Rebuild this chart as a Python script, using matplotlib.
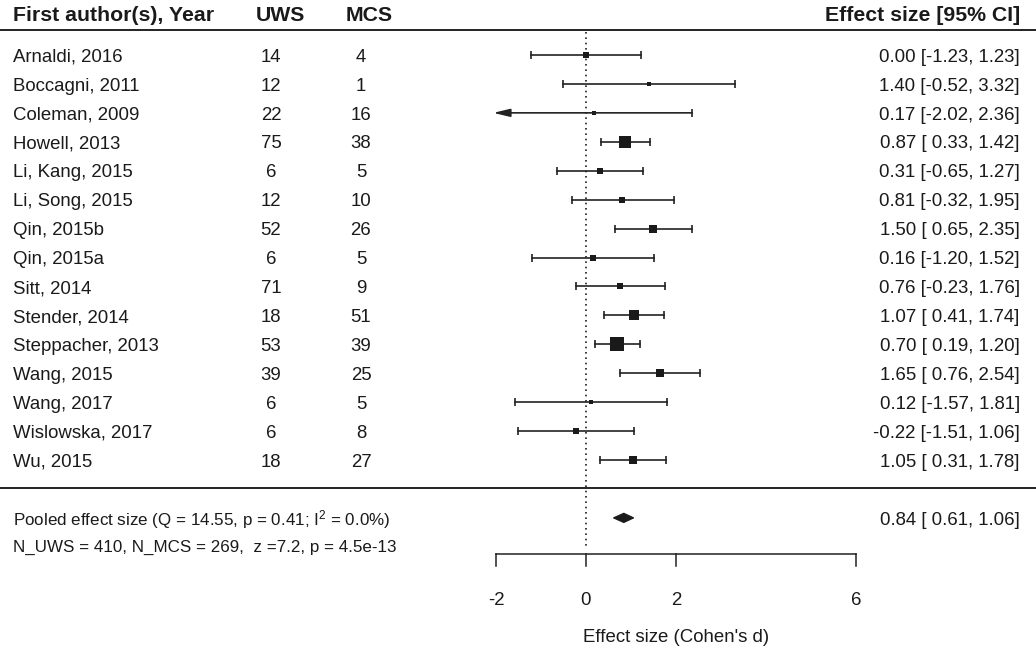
import numpy as np
import matplotlib
matplotlib.use("Agg")
import matplotlib.pyplot as plt

plt.rcParams['font.family'] = ['Liberation Sans', 'DejaVu Sans']
plt.rcParams['mathtext.fontset'] = 'custom'
plt.rcParams['mathtext.rm'] = 'Liberation Sans'
plt.rcParams['mathtext.it'] = 'Liberation Sans'

studies = ["Arnaldi, 2016", "Boccagni, 2011", "Coleman, 2009", "Howell, 2013",
           "Li, Kang, 2015", "Li, Song, 2015", "Qin, 2015b", "Qin, 2015a",
           "Sitt, 2014", "Stender, 2014", "Steppacher, 2013", "Wang, 2015",
           "Wang, 2017", "Wislowska, 2017", "Wu, 2015"]
n_uws = [14, 12, 22, 75, 6, 12, 52, 6, 71, 18, 53, 39, 6, 6, 18]
n_mcs = [4, 1, 16, 38, 5, 10, 26, 5, 9, 51, 39, 25, 5, 8, 27]
es = [0.00, 1.40, 0.17, 0.87, 0.31, 0.81, 1.50, 0.16, 0.76, 1.07, 0.70, 1.65, 0.12, -0.22, 1.05]
ci_lb = [-1.23, -0.52, -2.02, 0.33, -0.65, -0.32, 0.65, -1.20, -0.23, 0.41, 0.19, 0.76, -1.57, -1.51, 0.31]
ci_ub = [1.23, 3.32, 2.36, 1.42, 1.27, 1.95, 2.35, 1.52, 1.76, 1.74, 1.20, 2.54, 1.81, 1.06, 1.78]

pooled_es, pooled_lb, pooled_ub = 0.84, 0.61, 1.06
pooled_label = r"Pooled effect size (Q = 14.55, p = 0.41; I$^{2}$ = 0.0%)"
pooled_label2 = "N_UWS = 410, N_MCS = 269,  z =7.2, p = 4.5e-13"
xticks = [-2, 0, 2, 6]
col_headers = ["First author(s), Year", "UWS", "MCS", "Effect size [95% CI]"]
xlabel = "Effect size (Cohen's d)"

es = np.array(es); lb = np.array(ci_lb); ub = np.array(ci_ub)
k = len(studies)
rows = np.arange(k, 0, -1)

# weights -> marker size (metafor style: linear in weight from 0.5 to 1.5)
se = (ub - lb) / (2 * 1.96)
w = 1 / se**2
cex = (w - w.min()) / (w.max() - w.min()) + 0.5

TXT = '#1a1a1a'
LN = '#222222'
fig = plt.figure(figsize=(10.36, 6.47), dpi=100)
ax = fig.add_axes([0, 0, 1, 1])
ax.set_xlim(-13.022, 10.0)
ax.set_ylim(-5.463, 16.901)
ax.axis('off')

alim = (xticks[0], xticks[-1])
fs = 13.4
dy = 0.23   # baseline offset so that cap-height centre sits on the row

# column positions
x_name, x_uws, x_mcs, x_right = -12.73, -7.0, -5.0, 9.64

# header
hfs = 15.3
yh = 16.42 - 0.25
ax.text(x_name, yh, col_headers[0], fontsize=hfs, fontweight='bold', ha='left', va='baseline', color=TXT)
ax.text(-6.78, yh, col_headers[1], fontsize=hfs, fontweight='bold', ha='center', va='baseline', color=TXT)
ax.text(-4.82, yh, col_headers[2], fontsize=hfs, fontweight='bold', ha='center', va='baseline', color=TXT)
ax.text(x_right, yh, col_headers[3], fontsize=hfs, fontweight='bold', ha='right', va='baseline', color=TXT)

ax.axhline(15.864, color=LN, lw=1.4)
ax.axhline(0.03, color=LN, lw=1.4)

# reference line
ax.plot([0, 0], [15.8, -2.04], color=LN, lw=1.2, ls=(0, (1, 2.2)))

for i in range(k):
    y = rows[i]
    ax.text(x_name, y - dy, studies[i], fontsize=fs, ha='left', va='baseline', color=TXT)
    ax.text(x_uws, y - dy, str(n_uws[i]), fontsize=fs, ha='center', va='baseline', color=TXT)
    ax.text(x_mcs, y - dy, str(n_mcs[i]), fontsize=fs, ha='center', va='baseline', color=TXT)
    ax.text(x_right, y - dy, f"{es[i]:.2f} [{lb[i]:5.2f}, {ub[i]:.2f}]", fontsize=fs,
            ha='right', va='baseline', color=TXT)
    lo = max(lb[i], alim[0]); hi = min(ub[i], alim[1])
    if lb[i] < alim[0]:
        ax.annotate('', xy=(lo - 0.06, y), xytext=(hi, y),
                    arrowprops=dict(arrowstyle='-|>,head_length=1.0,head_width=0.24',
                                    color=LN, lw=1.2, shrinkA=0, shrinkB=0))
        ax.plot([hi], [y], marker='|', ms=6, mew=1.2, color=LN)
    else:
        ax.plot([lo, hi], [y, y], color=LN, lw=1.2)
        ax.plot([lo, hi], [y, y], ls='none', marker='|', ms=6, mew=1.2, color=LN)
    ax.plot([es[i]], [y], marker='s', ms=6.5 * cex[i], color=TXT, mec=TXT, mew=0)

# pooled diamond
yp = -1
h = 0.16
ax.fill([pooled_lb, pooled_es, pooled_ub, pooled_es], [yp, yp + h, yp, yp - h],
        facecolor=TXT, edgecolor=TXT, lw=0.8, joinstyle='miter')
pfs = 12.25
ax.text(x_name, -1.05 - 0.21, pooled_label, fontsize=pfs, ha='left', va='baseline', color=TXT)
ax.text(x_name, -1.97 - 0.21, pooled_label2, fontsize=pfs, ha='left', va='baseline', color=TXT)
ax.text(x_right, -1.0 - dy, f"{pooled_es:.2f} [{pooled_lb:5.2f}, {pooled_ub:.2f}]", fontsize=fs,
        ha='right', va='baseline', color=TXT)

# x axis
ya = -2.25
ax.plot([alim[0], alim[1]], [ya, ya], color=LN, lw=1.1)
for t in xticks:
    ax.plot([t, t], [ya, ya - 0.41], color=LN, lw=1.1)
    ax.text(t, -3.77 - dy, str(t), fontsize=fs, ha='center', va='baseline', color=TXT)
ax.text(np.mean(alim), -5.05 - dy, xlabel, fontsize=fs, ha='center', va='baseline', color=TXT)

fig.savefig('out.png', dpi=100)
